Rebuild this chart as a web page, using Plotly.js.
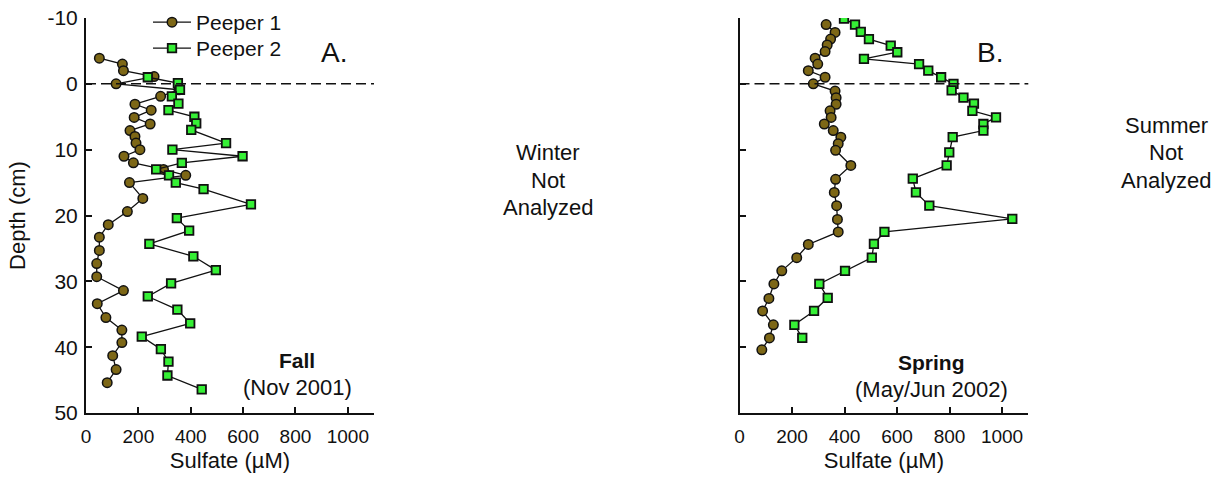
<!DOCTYPE html>
<html>
<head>
<meta charset="utf-8">
<script src="https://cdn.plot.ly/plotly-3.0.1.min.js"></script>
<style>html,body{margin:0;padding:0;background:#fff;}#chart{width:1216px;height:477px;}</style>
</head>
<body>
<div id="chart"></div>
<script>
// ---- Data ----
const fallP1Depth = [-3.9,-3.0,-2.0,-1.1,0,0.9,1.9,3.1,4.0,5.1,6.1,7.1,8.0,9.0,10.0,11.0,12.0,13.0,13.9,15.0,17.4,19.4,21.4,23.3,25.3,27.3,29.3,31.4,33.4,35.5,37.4,39.3,41.3,43.4,45.4];
const fallP1 = [51,139,143,260,115,355,285,187,249,184,245,168,187,191,206,145,181,296,381,166,217,158,85,51,51,41,41,143,43,76,137,137,102,115,81];
const fallP2Depth = [-1.0,-0.1,0.9,1.9,3.0,4.0,5.0,6.0,7.0,9.0,10.0,11.0,12.0,13.0,13.9,15.0,16.0,18.3,20.4,22.3,24.3,26.2,28.3,30.3,32.3,34.3,36.4,38.4,40.3,42.2,44.3,46.4];
const fallP2 = [236,351,359,328,353,315,414,421,402,535,330,598,366,268,317,343,449,630,347,394,242,410,496,325,236,349,398,213,286,315,311,442];
const springP1Depth = [-9.0,-7.8,-6.8,-5.9,-4.9,-3.9,-3.0,-2.0,-1.0,0,1.1,2.1,3.1,4.1,5.1,6.1,7.1,8.1,9.1,10.1,12.4,14.5,16.5,18.5,20.6,22.5,24.4,26.4,28.4,30.4,32.6,34.5,36.6,38.6,40.4];
const springP1 = [330,364,347,334,326,288,298,262,326,281,364,368,368,345,349,323,357,386,376,366,424,366,361,370,373,376,262,218,161,131,112,88,129,114,85];
const springP2Depth = [-9.9,-9.0,-7.9,-6.8,-5.8,-4.8,-3.8,-3.0,-2.0,-1.0,0,1.0,2.1,3.0,4.1,5.1,6.1,7.1,8.1,10.4,12.4,14.4,16.5,18.5,20.5,22.5,24.3,26.4,28.4,30.4,32.5,34.5,36.6,38.6];
const springP2 = [398,440,462,493,576,601,474,684,719,768,815,808,853,893,887,977,929,929,812,799,789,660,672,723,1039,552,512,504,402,304,336,284,209,239];
const seriesNames = ['Peeper 1','Peeper 2'];
const xTicks = [0,200,400,600,800,1000];
const yTicks = [-10,0,10,20,30,40,50];
const yTickText = ['-10','0','10','20','30','40','50'];

// ---- Styles ----
const FONT = 'Liberation Sans, Arial, Helvetica, sans-serif';
const W = 1216, H = 477;
const p1Style = {mode:'lines+markers', line:{color:'#111',width:1.3},
  marker:{symbol:'circle',size:9.5,color:'#7d6716',line:{color:'#111',width:1.5}}};
const p2Style = {mode:'lines+markers', line:{color:'#111',width:1.3},
  marker:{symbol:'square',size:8.5,color:'#35f035',line:{color:'#111',width:1.8}}};

const traces = [
  Object.assign({x:fallP1, y:fallP1Depth, name:seriesNames[0], xaxis:'x', yaxis:'y', legend:'legend'}, JSON.parse(JSON.stringify(p1Style))),
  Object.assign({x:fallP2, y:fallP2Depth, name:seriesNames[1], xaxis:'x', yaxis:'y', legend:'legend2'}, JSON.parse(JSON.stringify(p2Style))),
  Object.assign({x:springP1, y:springP1Depth, name:seriesNames[0], xaxis:'x2', yaxis:'y2', showlegend:false}, JSON.parse(JSON.stringify(p1Style))),
  Object.assign({x:springP2, y:springP2Depth, name:seriesNames[1], xaxis:'x2', yaxis:'y2', showlegend:false}, JSON.parse(JSON.stringify(p2Style)))
];

function xAxis(d0, d1, anchor){
  return {domain:[d0/W, d1/W], range:[0,1100], anchor:anchor,
    tickvals:xTicks, ticks:'inside', ticklen:6, tickwidth:2, tickcolor:'#111',
    showline:true, linecolor:'#111', linewidth:2, showgrid:false, zeroline:false,
    tickfont:{family:FONT,size:19,color:'#111'}, ticklabelstandoff:5,
    title:{text:'Sulfate (µM)', font:{family:FONT,size:22,color:'#111'}, standoff:7},
    automargin:false};
}
function yAxis(anchor, labels){
  return {domain:[1-413/H, 1-18/H], range:[50,-10], anchor:anchor,
    tickvals:yTicks, ticktext:yTickText, ticks:'inside', ticklen:6, tickwidth:2, tickcolor:'#111',
    showline:true, linecolor:'#111', linewidth:2, showgrid:false, zeroline:false,
    showticklabels:labels, tickfont:{family:FONT,size:21,color:'#111'}, ticklabelstandoff:2,
    title:{text: labels ? 'Depth (cm)' : '', font:{family:FONT,size:22,color:'#111'}, standoff:16},
    automargin:false};
}
function legendAt(py){
  return {x:148/W, y:1-py/H, xanchor:'left', yanchor:'top', bgcolor:'rgba(0,0,0,0)',
    font:{family:FONT,size:21,color:'#111'}, itemwidth:38};
}

function ann(text, px, py, size, bold){
  return {text: bold ? '<b>'+text+'</b>' : text, x:px/W, y:1-py/H, xref:'paper', yref:'paper',
    showarrow:false, xanchor:'center', yanchor:'middle', font:{family:FONT,size:size,color:'#111'}};
}

const layout = {
  width:W, height:H, margin:{l:0,r:0,t:0,b:0},
  paper_bgcolor:'#fff', plot_bgcolor:'rgba(0,0,0,0)',
  font:{family:FONT,size:21,color:'#111'},
  xaxis:xAxis(86,374,'y'), yaxis:yAxis('x',true),
  xaxis2:xAxis(739.5,1028.3,'y2'), yaxis2:yAxis('x2',false),
  showlegend:true,
  legend:legendAt(2),
  legend2:legendAt(28),
  shapes:[
    {type:'line', xref:'x domain', x0:0, x1:1, yref:'y', y0:0, y1:0, line:{color:'#111',width:1.5,dash:'10px,5px'}},
    {type:'line', xref:'x2 domain', x0:0, x1:1, yref:'y2', y0:0, y1:0, line:{color:'#111',width:1.5,dash:'10px,5px'}}
  ],
  annotations:[
    ann('A.',334,52,28,false),
    ann('B.',990,52,28,false),
    ann('Fall',297,360,21,true),
    ann('(Nov 2001)',297,387,22,false),
    ann('Spring',931,362,21,true),
    ann('(May/Jun 2002)',931,389,22,false),
    ann('Winter',548,152,22,false),
    ann('Not',548,180,22,false),
    ann('Analyzed',548,207,22,false),
    ann('Summer',1166,125,22,false),
    ann('Not',1166,152,22,false),
    ann('Analyzed',1166,180,22,false)
  ]
};

Plotly.newPlot('chart', traces, layout, {staticPlot:true, displayModeBar:false});
</script>
</body>
</html>
